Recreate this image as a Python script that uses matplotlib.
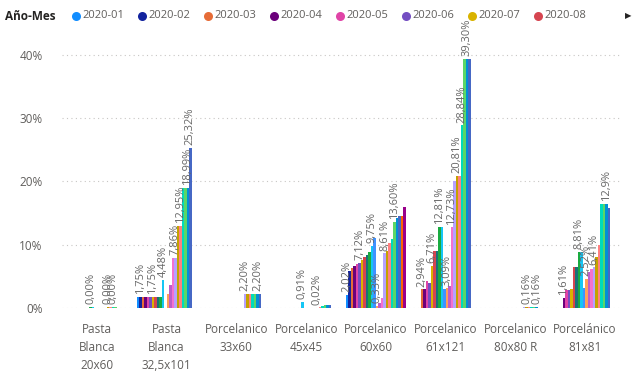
import numpy as np
import matplotlib.pyplot as plt

# categories (x axis) and series (months)
categories = ['Pasta\nBlanca\n20x60', 'Pasta\nBlanca\n32,5x101', 'Porcelanico\n33x60',
              'Porcelanico\n45x45', 'Porcelanico\n60x60', 'Porcelanico\n61x121',
              'Porcelanico\n80x80 R', 'Porcelánico\n81x81']
months = ['2020-01', '2020-02', '2020-03', '2020-04', '2020-05', '2020-06',
          '2020-07', '2020-08', '2020-09', '2020-10', '2020-11', '2020-12',
          '2021-01', '2021-02', '2021-03', '2021-04', '2021-05', '2021-06',
          '2021-07', '2021-08', '2021-09', '2021-10', '2021-11', '2021-12']
colors = ['#118DFF', '#12239E', '#E66C37', '#6B007B', '#E044A7', '#744EC2',
          '#D9B300', '#D64550', '#197278', '#1AAB40', '#15C6F4', '#4092FF',
          '#FFA058', '#BE5DC9', '#F472D0', '#B5A1FF', '#C4A200', '#FF8080',
          '#00DBBC', '#5BD667', '#0091D5', '#4668C5', '#FF6300', '#99008A']

# values in % per category, one entry per month
pb_20x60 = [0, 0, 0, 0, 0, 0, 0, 0, 0, 0.15, 0.15, 0,
            0, 0, 0, 0, 0.15, 0.15, 0.15, 0.15, 0, 0, 0, 0]
pb_32x101 = [1.75, 1.75, 1.75, 1.75, 1.75, 1.75, 1.75, 1.75, 1.75, 1.75, 4.48, 0,
             2.2, 3.6, 7.86, 7.86, 12.95, 12.95, 18.99, 18.99, 18.99, 25.32, 0, 0]
p_33x60 = [0, 0, 0, 0, 0, 0, 0, 0, 0, 0, 0, 0,
           0, 0, 0, 2.2, 2.2, 2.2, 2.2, 2.2, 2.2, 2.2, 0, 0]
p_45x45 = [0, 0, 0, 0, 0, 0, 0, 0, 0, 0, 0.91, 0,
           0, 0, 0, 0, 0.02, 0.2, 0.3, 0.5, 0.5, 0.5, 0, 0]
p_60x60 = [2.02, 5.9, 6.3, 6.6, 6.9, 7.12, 7.6, 8.0, 8.3, 8.8, 9.75, 11.0,
           0.33, 0.8, 1.6, 8.61, 9.0, 10.3, 10.9, 13.6, 14.2, 14.5, 14.5, 16.0]
p_61x121 = [0, 0, 2.94, 2.94, 4.2, 3.9, 6.71, 9.0, 9.0, 12.81, 12.81, 3.0,
            3.09, 3.5, 12.73, 20.0, 20.81, 20.81, 28.84, 39.3, 39.3, 39.3, 0, 0]
p_80x80r = [0, 0, 0, 0, 0, 0, 0, 0, 0, 0, 0, 0,
            0, 0, 0, 0.16, 0.16, 0.16, 0.16, 0.16, 0.16, 0, 0, 0]
p_81x81 = [0, 0, 0, 1.61, 2.8, 2.8, 3.0, 6.5, 6.5, 8.81, 8.81, 3.2,
           4.6, 5.7, 6.1, 6.41, 8.1, 10.0, 16.5, 16.5, 16.5, 15.8, 0, 0]

# data labels shown in the chart: (month index, text) per category
labels = [
    [(9, '0,00%'), (16, '0,00%'), (18, '0,00%')],
    [(1, '1,75%'), (6, '1,75%'), (10, '4,48%'), (15, '7,86%'), (17, '12,95%'),
     (20, '18,99%'), (21, '25,32%')],
    [(15, '2,20%'), (20, '2,20%')],
    [(10, '0,91%'), (16, '0,02%')],
    [(0, '2,02%'), (5, '7,12%'), (10, '9,75%'), (12, '0,33%'), (15, '8,61%'),
     (19, '13,60%')],
    [(2, '2,94%'), (6, '6,71%'), (9, '12,81%'), (12, '3,09%'), (14, '12,73%'),
     (16, '20,81%'), (18, '28,84%'), (20, '39,30%')],
    [(16, '0,16%'), (20, '0,16%')],
    [(3, '1,61%'), (9, '8,81%'), (12, '2,52%'), (15, '6,41%'), (20, '12,9%')],
]

data = np.array([pb_20x60, pb_32x101, p_33x60, p_45x45,
                 p_60x60, p_61x121, p_80x80r, p_81x81])

grey = '#605E5C'
fig = plt.figure(figsize=(6.44, 3.74), dpi=100)
ax = fig.add_axes([62 / 644, 66 / 374, 558 / 644, 266 / 374])

n = len(months)
group = 0.86
w = group / n
x = np.arange(len(categories))

for i, m in enumerate(months):
    ax.bar(x - group / 2 + w * (i + 0.5), data[:, i], width=w,
           color=colors[i], linewidth=0, zorder=2)

for k, lab in enumerate(labels):
    for i, txt in lab:
        xi = k - group / 2 + w * (i + 0.5)
        ax.annotate(txt, (xi, data[k, i]), xytext=(0, 2), textcoords='offset points',
                    rotation=90, ha='center', va='bottom', fontsize=8,
                    color='#666666', family='Open Sans', zorder=3)

ax.set_xlim(-0.5, len(categories) - 0.5)
ax.set_ylim(0, 42)
ax.set_yticks([0, 10, 20, 30, 40])
ax.set_yticklabels(['0%', '10%', '20%', '30%', '40%'])
ax.set_xticks(x)
ax.set_xticklabels(categories, linespacing=1.5)
for t in ax.get_xticklabels() + ax.get_yticklabels():
    t.set_color(grey)
    t.set_family('Open Sans')
    t.set_fontsize(8.5)
ax.tick_params(axis='x', length=0, pad=11)
ax.tick_params(axis='y', length=0, pad=14)
ax.grid(axis='y', color='#C8C6C4', linestyle=(0, (1, 3)), linewidth=0.8, zorder=0)
for s in ax.spines.values():
    s.set_visible(False)

# legend drawn at the top
ly = 1 - 16 / 374
fig.text(5 / 644, ly, 'Año-Mes', fontsize=8.5, fontweight='bold',
         color='#252423', family='Open Sans', va='center')
for j in range(8):
    cx = (76 + 66 * j) / 644
    fig.add_artist(plt.Line2D([cx], [ly], linestyle='none', marker='o',
                              markersize=6.5, markeredgewidth=0, color=colors[j],
                              transform=fig.transFigure))
    fig.text(cx + 6 / 644, ly, months[j], fontsize=8, color=grey,
             va='center', family='Open Sans')
fig.text(628 / 644, ly, '▶', fontsize=6, color='#252423',
         ha='center', va='center', family='DejaVu Sans')

fig.savefig('out.png', dpi=100)
